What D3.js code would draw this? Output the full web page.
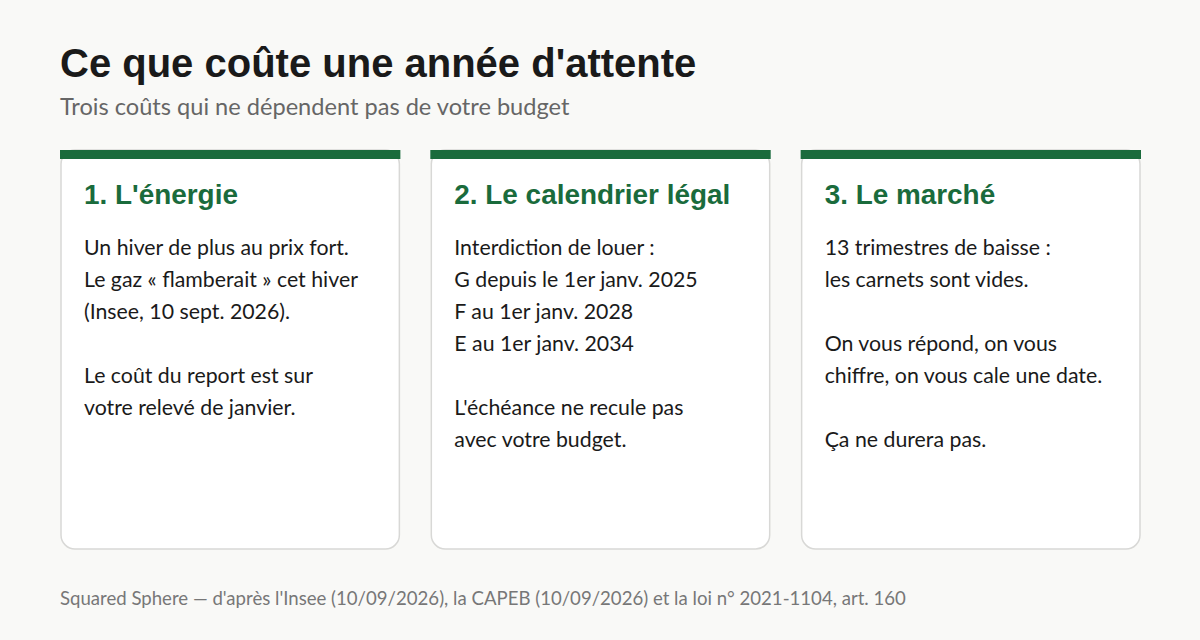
<!DOCTYPE html>
<html><head><meta charset="utf-8">
<script src="https://cdn.jsdelivr.net/npm/d3@7"></script>
<style>body{margin:0;background:#f9f9f7;}</style></head>
<body><svg id="c" width="1200" height="640"></svg>
<script>
const title = "Ce que coûte une année d'attente";
const subtitle = "Trois coûts qui ne dépendent pas de votre budget";
const cardTitles = ["1. L'énergie", "2. Le calendrier légal", "3. Le marché"];
const cardLines = [
  ["Un hiver de plus au prix fort.", "Le gaz « flamberait » cet hiver", "(Insee, 10 sept. 2026).", "", "Le coût du report est sur", "votre relevé de janvier."],
  ["Interdiction de louer :", "G depuis le 1er janv. 2025", "F au 1er janv. 2028", "E au 1er janv. 2034", "", "L'échéance ne recule pas", "avec votre budget."],
  ["13 trimestres de baisse :", "les carnets sont vides.", "", "On vous répond, on vous", "chiffre, on vous cale une date.", "", "Ça ne durera pas."]
];
const source = "Squared Sphere — d'après l'Insee (10/09/2026), la CAPEB (10/09/2026) et la loi n° 2021-1104, art. 160";

const svg = d3.select("#c");
svg.append("rect").attr("width",1200).attr("height",640).attr("fill","#f9f9f7");
svg.append("text").attr("x",60).attr("y",77).text(title)
  .attr("font-family","Liberation Sans, Arial, sans-serif").attr("font-weight","bold").attr("font-size",40).attr("fill","#1a1a1a");
svg.append("text").attr("x",60).attr("y",115).text(subtitle)
  .attr("font-family","Lato, sans-serif").attr("font-size",23.6).attr("fill","#666");

const x = d3.scaleBand().domain(d3.range(cardTitles.length)).range([60,1141]).paddingInner(30/371);
const green = "#1a6b3c";
const g = svg.selectAll("g.card").data(cardTitles).join("g").attr("class","card")
  .attr("transform",(d,i)=>`translate(${x(i)},150)`);
g.append("rect").attr("x",1).attr("y",0).attr("width",x.bandwidth()-2).attr("height",399)
  .attr("rx",14).attr("fill","#fff").attr("stroke","#d8d8d6").attr("stroke-width",1.5);
g.append("rect").attr("width",x.bandwidth()).attr("height",9).attr("fill",green);
g.append("text").attr("x",24).attr("y",54).text(d=>d)
  .attr("font-family","Liberation Sans, Arial, sans-serif").attr("font-weight","bold").attr("font-size",27.9).attr("fill",green);
g.each(function(d,i){
  d3.select(this).selectAll("text.l").data(cardLines[i]).join("text").attr("class","l")
    .attr("x",24).attr("y",(t,j)=>105+j*32).text(t=>t)
    .attr("font-family","Lato, sans-serif").attr("font-size",21.3).attr("fill","#1a1a1a");
});
svg.append("text").attr("x",60).attr("y",605).text(source)
  .attr("font-family","Lato, sans-serif").attr("font-size",18.6).attr("fill","#777");
</script></body></html>
